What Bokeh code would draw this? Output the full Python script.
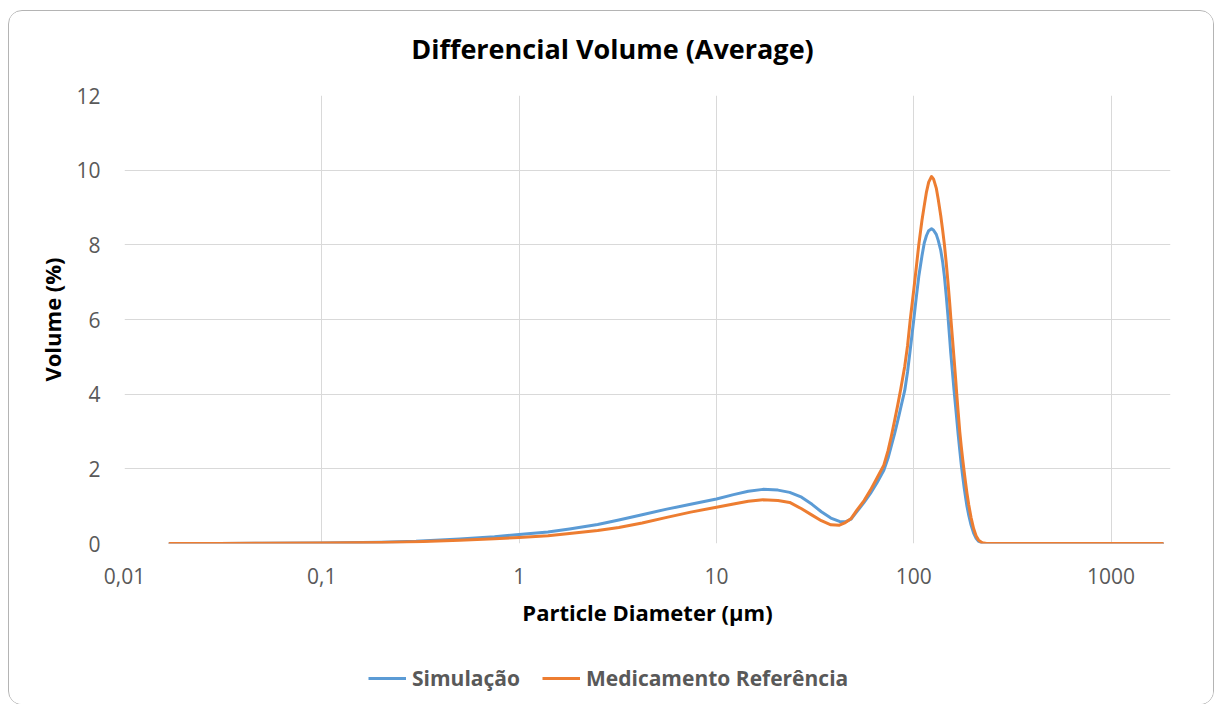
from bokeh.plotting import figure
from bokeh.layouts import column
from bokeh.models import Range1d, FixedTicker, Legend, LegendItem, Label
from bokeh.embed import file_html
from bokeh.resources import INLINE

# ---- data ----
diameter_um = [0.017, 0.03, 0.05, 0.1, 0.2, 0.3, 0.5, 0.75, 1.0, 1.4, 1.8, 2.5, 3.2,
               4.2, 5.6, 7.4, 10, 12.2, 14.5, 17.2, 20.5, 23.5, 27, 30.5, 34, 38,
               42, 45, 48, 51.6, 56, 60.3, 65, 70.5, 74, 77, 80, 83, 86, 90, 93, 96,
               100, 103, 106, 110, 113, 116, 119, 123, 126, 130, 133, 137, 140, 143,
               146, 149, 152, 154, 157, 160, 163, 165, 168, 171, 174, 177, 180, 183,
               186, 190, 195, 201, 207, 213, 222, 234, 260, 400, 700, 1000, 1500, 1822]

simulacao = [0, 0.002, 0.005, 0.013, 0.035, 0.06, 0.12, 0.18, 0.24, 0.31, 0.39, 0.51, 0.63,
             0.77, 0.92, 1.05, 1.19, 1.31, 1.40, 1.45, 1.43, 1.37, 1.24, 1.05, 0.85, 0.68,
             0.59, 0.58, 0.65, 0.86, 1.1, 1.34, 1.62, 1.96, 2.28, 2.62, 2.95, 3.3, 3.65, 4.1, 4.6, 5.2,
             6.0, 6.6, 7.15, 7.7, 8.05, 8.25, 8.38, 8.43, 8.39, 8.28, 8.12, 7.85, 7.55, 7.15,
             6.65, 6.1, 5.5, 5.1, 4.6, 4.1, 3.65, 3.35, 2.9, 2.5, 2.12, 1.8, 1.5, 1.24,
             1.0, 0.75, 0.5, 0.28, 0.14, 0.06, 0.01, 0, 0, 0, 0, 0, 0, 0]

medicamento_ref = [0, 0.002, 0.005, 0.012, 0.03, 0.05, 0.09, 0.13, 0.16, 0.21, 0.27, 0.35, 0.43,
                   0.55, 0.70, 0.84, 0.97, 1.06, 1.13, 1.17, 1.15, 1.10, 0.93, 0.76, 0.61, 0.50,
                   0.49, 0.56, 0.66, 0.9, 1.15, 1.43, 1.75, 2.1, 2.48, 2.88, 3.3, 3.72, 4.15, 4.75, 5.3, 6.0,
                   6.8, 7.4, 8.0, 8.65, 9.05, 9.42, 9.68, 9.83, 9.76, 9.52, 9.22, 8.78, 8.4, 8.0,
                   7.52, 7.0, 6.45, 6.05, 5.5, 4.95, 4.4, 4.02, 3.5, 3.0, 2.6, 2.25, 1.93, 1.63,
                   1.35, 1.03, 0.7, 0.4, 0.2, 0.09, 0.02, 0, 0, 0, 0, 0, 0, 0]

x_ticks = [0.01, 0.1, 1, 10, 100, 1000]
x_tick_labels = ["0,01", "0,1", "1", "10", "100", "1000"]
y_ticks = [0, 2, 4, 6, 8, 10, 12]

title_text = "Differencial Volume (Average)"
x_title = "Particle Diameter (\u00b5m)"
y_title = "Volume (%)"
series_names = ["Simula\u00e7\u00e3o", "Medicamento Refer\u00eancia"]
colors = ["#5B9BD5", "#ED7D31"]

FONT = "Open Sans"
GRAY = "#595959"
W = 1204
NAN = float("nan")


def blank_fig(h):
    f = figure(width=W, height=h, x_range=Range1d(0, 1), y_range=Range1d(0, 1),
               output_backend="svg", toolbar_location=None,
               x_axis_location=None, y_axis_location=None,
               min_border_left=0, min_border_right=0, min_border_top=0, min_border_bottom=0)
    f.xgrid.visible = False
    f.ygrid.visible = False
    f.outline_line_color = None
    f.background_fill_color = "white"
    f.border_fill_color = "white"
    return f


# ---- title strip (frame is aligned with the main plot frame) ----
tf = blank_fig(69)
tf.add_layout(Label(x=488, y=32, x_units="screen", y_units="screen", text=title_text,
                    text_font=FONT, text_font_style="bold", text_font_size="27px",
                    text_color="black", text_align="center", text_baseline="middle"))

# ---- main plot ----
p = figure(width=W, height=560, x_axis_type="log",
           x_range=Range1d(0.01, 2000), y_range=Range1d(0, 12),
           output_backend="svg", toolbar_location=None,
           min_border_left=115, min_border_right=43,
           min_border_top=15, min_border_bottom=97)
p.outline_line_color = None
p.background_fill_color = "white"
p.border_fill_color = "white"

p.xaxis.ticker = FixedTicker(ticks=x_ticks)
p.xaxis.major_label_overrides = {t: l for t, l in zip(x_ticks, x_tick_labels)}
p.yaxis.ticker = FixedTicker(ticks=y_ticks)
for ax in (p.xaxis[0], p.yaxis[0]):
    ax.axis_line_color = None
    ax.major_tick_line_color = None
    ax.minor_tick_line_color = None
    ax.major_tick_out = 0
    ax.major_tick_in = 0
    ax.minor_tick_out = 0
    ax.minor_tick_in = 0
    ax.major_label_text_font = FONT
    ax.major_label_text_font_size = "21px"
    ax.major_label_text_color = GRAY
    ax.axis_label_text_font = FONT
    ax.axis_label_text_font_style = "bold"
    ax.axis_label_text_font_size = "22px"
    ax.axis_label_text_color = "black"
p.xaxis.major_label_standoff = 24
p.yaxis.major_label_standoff = 24
p.xaxis.axis_label = x_title
p.yaxis.axis_label = y_title
p.xaxis.axis_label_standoff = 10
p.yaxis.axis_label_standoff = 6

p.xgrid.ticker = FixedTicker(ticks=x_ticks)
p.ygrid.ticker = FixedTicker(ticks=y_ticks)
p.xgrid.grid_line_color = "#d9d9d9"
p.ygrid.grid_line_color = "#d9d9d9"

r1 = p.line(diameter_um, simulacao, line_color=colors[0], line_width=3,
            line_join="round", line_cap="round")
r2 = p.line(diameter_um, medicamento_ref, line_color=colors[1], line_width=3,
            line_join="round", line_cap="round")

# ---- legend strip ----
lf = blank_fig(64)
k1 = lf.line([NAN], [NAN], line_color=colors[0], line_width=3)
k2 = lf.line([NAN], [NAN], line_color=colors[1], line_width=3)
legend = Legend(items=[LegendItem(label=series_names[0], renderers=[k1]),
                       LegendItem(label=series_names[1], renderers=[k2])],
                location=(244, 12), orientation="horizontal",
                padding=0, margin=0, spacing=22, label_standoff=6,
                glyph_width=38, glyph_height=20,
                border_line_color=None, background_fill_alpha=0,
                label_text_font=FONT, label_text_font_style="bold",
                label_text_font_size="21px", label_text_color=GRAY)
lf.add_layout(legend, "center")

layout = column(tf, p, lf, spacing=0)
layout.styles = {"margin-left": "8px", "margin-top": "10px",
                 "border": "1px solid #b4b4b4", "border-radius": "14px",
                 "overflow": "hidden", "background-color": "white"}

open("out.html", "w").write(file_html(layout, INLINE))
